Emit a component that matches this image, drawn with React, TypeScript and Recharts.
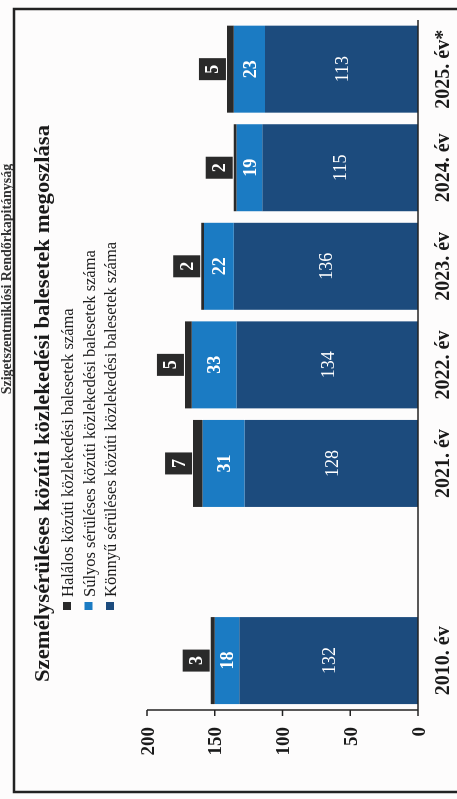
import React from 'react';
import { BarChart, Bar, XAxis, YAxis, LabelList } from 'recharts';

// ---- data ----
const years = ['2010. év', '', '2021. év', '2022. év', '2023. év', '2024. év', '2025. év*'];
const konnyuValues = [132, null, 128, 134, 136, 115, 113];
const sulyosValues = [18, null, 31, 33, 22, 19, 23];
const halalosValues = [3, null, 7, 5, 2, 2, 5];
const valueTicks = [0, 50, 100, 150, 200];
const slotBoundaries = [0, 1, 2, 3, 4, 5, 6, 7];

const titleText = 'Személysérüléses közúti közlekedési balesetek megoszlása';
const headerText = 'Szigetszentmiklósi Rendőrkapitányság';
const legendLabels = [
  'Halálos közúti közlekedési balesetek száma',
  'Súlyos sérüléses közúti közlekedési balesetek száma',
  'Könnyű sérüléses közúti közlekedési balesetek száma',
];

const COLOR_HALALOS = '#2a2a2a';
const COLOR_SULYOS = '#1b7bc3';
const COLOR_KONNYU = '#1c4b7d';
const legendColors = [COLOR_HALALOS, COLOR_SULYOS, COLOR_KONNYU];

const data = years.map((year, i) => ({
  year,
  slot: i + 0.5,
  konnyu: konnyuValues[i],
  sulyos: sulyosValues[i],
  halalos: halalosValues[i],
}));

const W = 799;
const H = 457;
const FONT = '"Liberation Serif", "DejaVu Serif", serif';

const renderDeathBox = (props: any) => {
  const { x, y, width, value } = props;
  if (value == null) return null;
  const bw = 22;
  const bh = 27;
  const cx = Number(x) + Number(width) / 2;
  const top = Number(y) - bh - 1;
  return (
    <g>
      <rect x={cx - bw / 2} y={top} width={bw} height={bh} fill={COLOR_HALALOS} />
      <text
        x={cx}
        y={top + bh / 2}
        textAnchor="middle"
        dominantBaseline="central"
        fill="#ffffff"
        fontSize={18}
        fontWeight="bold"
        fontFamily={FONT}
      >
        {value}
      </text>
    </g>
  );
};

export default function App() {
  return (
    <div
      style={{
        position: 'fixed',
        left: 0,
        top: 0,
        width: W,
        height: H,
        transformOrigin: '0 0',
        transform: `translate(0px, ${W}px) rotate(-90deg)`,
        background: '#fdfcfc',
        fontFamily: FONT,
        overflow: 'hidden',
      }}
    >
      <svg width={W} height={H} style={{ position: 'absolute', left: 0, top: 0 }}>
        <text
          x={520}
          y={11}
          textAnchor="middle"
          fontSize={14}
          fontWeight="bold"
          fill="#333"
          fontFamily={FONT}
        >
          {headerText}
        </text>
        <rect x={7} y={14} width={783} height={470} fill="none" stroke="#222" strokeWidth={2.5} />
        <text
          x={117}
          y={49}
          fontSize={22}
          fontWeight="bold"
          fill="#1a1a1a"
          fontFamily={FONT}
          textLength={557}
          lengthAdjust="spacingAndGlyphs"
        >
          {titleText}
        </text>
        {legendLabels.map((label, i) => {
          const cy = 67 + i * 21.5;
          return (
            <g key={label}>
              <rect x={189} y={cy - 4} width={8} height={8} fill={legendColors[i]} />
              <text x={202} y={cy + 6} fontSize={16.5} fill="#1a1a1a" fontFamily={FONT}>
                {label}
              </text>
            </g>
          );
        })}
      </svg>
      <div style={{ position: 'absolute', left: 0, top: 0 }}>
        <BarChart
          width={W}
          height={H}
          data={data}
          margin={{ top: 147, right: 20, bottom: 0, left: 0 }}
          barCategoryGap="6%"
        >
          <XAxis
            xAxisId="grid"
            dataKey="slot"
            type="number"
            domain={[0, 7]}
            ticks={slotBoundaries}
            height={0}
            axisLine={false}
            tickLine={{ stroke: '#222', strokeWidth: 1.5 }}
            tickSize={7}
            tick={() => <g />}
          />
          <XAxis
            xAxisId="cat"
            dataKey="year"
            height={39}
            interval={0}
            axisLine={{ stroke: '#222', strokeWidth: 1.5 }}
            tickLine={false}
            tickSize={6}
            tickMargin={11}
            tick={{ fontSize: 20, fontWeight: 'bold', fill: '#1a1a1a', fontFamily: FONT }}
          />
          <YAxis
            domain={[0, 200]}
            ticks={valueTicks}
            width={89}
            interval={0}
            axisLine={{ stroke: '#222', strokeWidth: 1.5 }}
            tickLine={{ stroke: '#222', strokeWidth: 1.5 }}
            tickSize={6}
            tickMargin={11}
            tick={{ fontSize: 19, fontWeight: 'bold', fill: '#1a1a1a', fontFamily: FONT }}
          />
          <Bar xAxisId="cat" dataKey="konnyu" stackId="a" fill={COLOR_KONNYU} isAnimationActive={false}>
            <LabelList dataKey="konnyu" position="center" fill="#ffffff" fontSize={18} fontFamily={FONT} />
          </Bar>
          <Bar xAxisId="cat" dataKey="sulyos" stackId="a" fill={COLOR_SULYOS} isAnimationActive={false}>
            <LabelList
              dataKey="sulyos"
              position="center"
              fill="#ffffff"
              fontSize={18}
              fontWeight="bold"
              fontFamily={FONT}
            />
          </Bar>
          <Bar xAxisId="cat" dataKey="halalos" stackId="a" fill={COLOR_HALALOS} isAnimationActive={false}>
            <LabelList dataKey="halalos" content={renderDeathBox} />
          </Bar>
        </BarChart>
      </div>
    </div>
  );
}
